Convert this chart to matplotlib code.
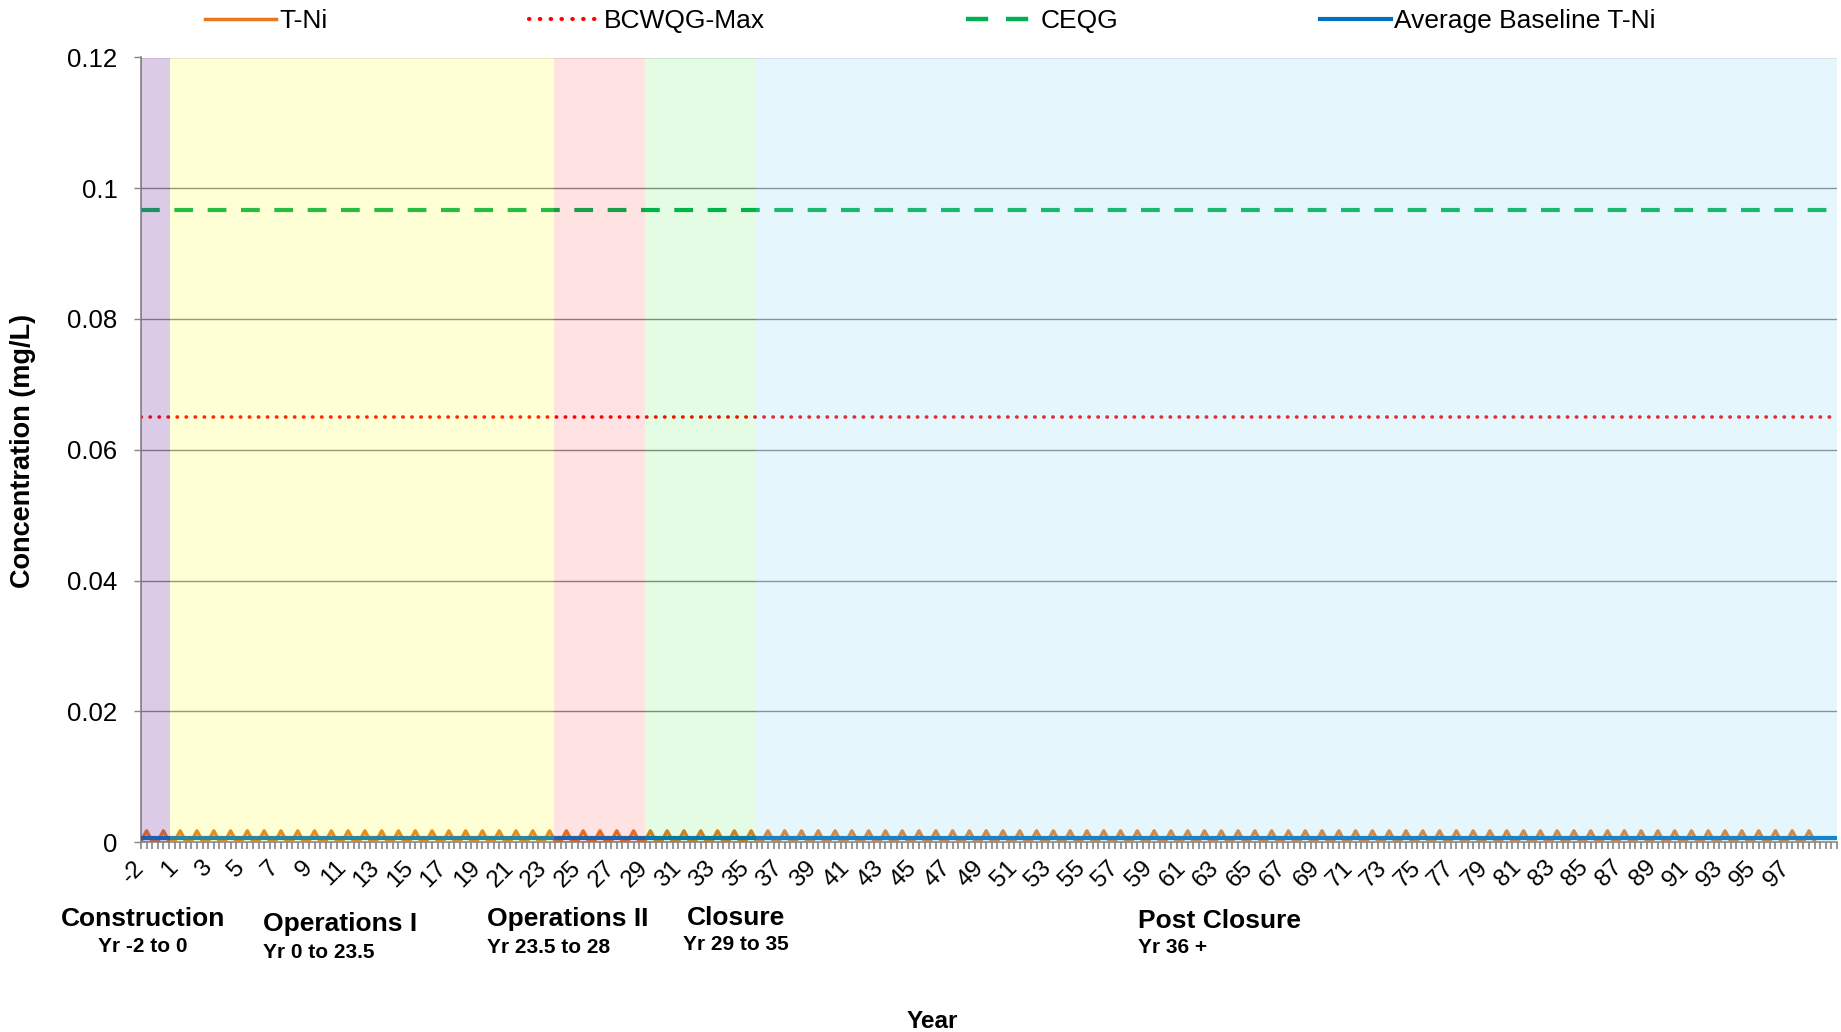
import numpy as np
import matplotlib
matplotlib.use("Agg")
import matplotlib.pyplot as plt
from matplotlib.lines import Line2D

plt.rcParams['font.family'] = ['Liberation Sans', 'DejaVu Sans']

# categories: 3 periods per year, years -2, -1, 1, 2, ... (labels every 6 periods)
n_periods = 304
tick_labels = ['-2'] + [str(y) for y in range(1, 98, 2)]
label_step = 6

# T-Ni concentration (mg/L), 3 values per year, years -2 .. 98
tni = [
    0.0001, 0.0017, 0.0001, 0.0001, 0.0017, 0.0001, 0.0001, 0.0017, 0.0001, 0.0001, 0.0017, 0.0001, 0.0001, 0.0017, 0.0001,
    0.0001, 0.0017, 0.0001, 0.0001, 0.0017, 0.0001, 0.0001, 0.0017, 0.0001, 0.0001, 0.0017, 0.0001, 0.0001, 0.0017, 0.0001,
    0.0001, 0.0017, 0.0001, 0.0001, 0.0017, 0.0001, 0.0001, 0.0017, 0.0001, 0.0001, 0.0017, 0.0001, 0.0001, 0.0017, 0.0001,
    0.0001, 0.0017, 0.0001, 0.0001, 0.0017, 0.0001, 0.0001, 0.0017, 0.0001, 0.0001, 0.0017, 0.0001, 0.0001, 0.0017, 0.0001,
    0.0001, 0.0017, 0.0001, 0.0001, 0.0017, 0.0001, 0.0001, 0.0017, 0.0001, 0.0001, 0.0017, 0.0001, 0.0001, 0.0017, 0.0001,
    0.0001, 0.0017, 0.0001, 0.0001, 0.0017, 0.0001, 0.0001, 0.0017, 0.0001, 0.0001, 0.0017, 0.0001, 0.0001, 0.0017, 0.0001,
    0.0001, 0.0017, 0.0001, 0.0001, 0.0017, 0.0001, 0.0001, 0.0017, 0.0001, 0.0001, 0.0017, 0.0001, 0.0001, 0.0017, 0.0001,
    0.0001, 0.0017, 0.0001, 0.0001, 0.0017, 0.0001, 0.0001, 0.0017, 0.0001, 0.0001, 0.0017, 0.0001, 0.0001, 0.0017, 0.0001,
    0.0001, 0.0017, 0.0001, 0.0001, 0.0017, 0.0001, 0.0001, 0.0017, 0.0001, 0.0001, 0.0017, 0.0001, 0.0001, 0.0017, 0.0001,
    0.0001, 0.0017, 0.0001, 0.0001, 0.0017, 0.0001, 0.0001, 0.0017, 0.0001, 0.0001, 0.0017, 0.0001, 0.0001, 0.0017, 0.0001,
    0.0001, 0.0017, 0.0001, 0.0001, 0.0017, 0.0001, 0.0001, 0.0017, 0.0001, 0.0001, 0.0017, 0.0001, 0.0001, 0.0017, 0.0001,
    0.0001, 0.0017, 0.0001, 0.0001, 0.0017, 0.0001, 0.0001, 0.0017, 0.0001, 0.0001, 0.0017, 0.0001, 0.0001, 0.0017, 0.0001,
    0.0001, 0.0017, 0.0001, 0.0001, 0.0017, 0.0001, 0.0001, 0.0017, 0.0001, 0.0001, 0.0017, 0.0001, 0.0001, 0.0017, 0.0001,
    0.0001, 0.0017, 0.0001, 0.0001, 0.0017, 0.0001, 0.0001, 0.0017, 0.0001, 0.0001, 0.0017, 0.0001, 0.0001, 0.0017, 0.0001,
    0.0001, 0.0017, 0.0001, 0.0001, 0.0017, 0.0001, 0.0001, 0.0017, 0.0001, 0.0001, 0.0017, 0.0001, 0.0001, 0.0017, 0.0001,
    0.0001, 0.0017, 0.0001, 0.0001, 0.0017, 0.0001, 0.0001, 0.0017, 0.0001, 0.0001, 0.0017, 0.0001, 0.0001, 0.0017, 0.0001,
    0.0001, 0.0017, 0.0001, 0.0001, 0.0017, 0.0001, 0.0001, 0.0017, 0.0001, 0.0001, 0.0017, 0.0001, 0.0001, 0.0017, 0.0001,
    0.0001, 0.0017, 0.0001, 0.0001, 0.0017, 0.0001, 0.0001, 0.0017, 0.0001, 0.0001, 0.0017, 0.0001, 0.0001, 0.0017, 0.0001,
    0.0001, 0.0017, 0.0001, 0.0001, 0.0017, 0.0001, 0.0001, 0.0017, 0.0001, 0.0001, 0.0017, 0.0001, 0.0001, 0.0017, 0.0001,
    0.0001, 0.0017, 0.0001, 0.0001, 0.0017, 0.0001, 0.0001, 0.0017, 0.0001, 0.0001, 0.0017, 0.0001, 0.0001, 0.0017, 0.0001,
]
bcwqg_max = 0.065
ceqg = 0.0967
baseline_tni = 0.00055

# project phases (edges in category positions)
phase_names = ['Construction', 'Operations I', 'Operations II', 'Closure', 'Post Closure']
phase_years = ['Yr -2 to 0', 'Yr 0 to 23.5', 'Yr 23.5 to 28', 'Yr 29 to 35', 'Yr 36 +']
phase_edges = [0, 5.2, 73.8, 90.0, 109.9, 303]
phase_colors = ['#7030A0', '#FFFF00', '#FF0000', '#00E000', '#80D4F2']
phase_alpha = [0.25, 0.16, 0.11, 0.106, 0.2]

W, H = 1841, 1032
fig = plt.figure(figsize=(W / 100, H / 100), dpi=100)
ax = fig.add_axes([141 / W, 1 - 842 / H, 1696 / W, 784.5 / H])

orange, red, green, blue = '#E8771E', '#FF0000', '#00B050', '#0070C0'
x = np.arange(n_periods)
ax.plot(x[:len(tni)], tni, color=orange, lw=2.5, zorder=2)
ax.plot(x, np.full(n_periods, bcwqg_max), color=red, lw=2.6,
        ls=(0, (0.1, 2.4)), dash_capstyle='round', zorder=2)
ax.plot(x, np.full(n_periods, ceqg), color=green, lw=3, ls=(0, (4.5, 3.5)), zorder=2)
ax.plot(x, np.full(n_periods, baseline_tni), color=blue, lw=3, zorder=3)

# phase shading laid over the lines (translucent)
for i in range(len(phase_names)):
    ax.axvspan(phase_edges[i], phase_edges[i + 1], color=phase_colors[i],
               alpha=phase_alpha[i], lw=0, zorder=4)

ax.set_xlim(0, n_periods - 1)
ax.set_ylim(0, 0.12)

grey = '#868686'
ax.set_yticks([0, 0.02, 0.04, 0.06, 0.08, 0.1, 0.12])
ax.set_yticklabels(['0', '0.02', '0.04', '0.06', '0.08', '0.1', '0.12'], fontsize=18.5)
ax.yaxis.grid(True, color=grey, lw=1.0)
ax.set_axisbelow(True)

xlabels = [''] * n_periods
for k, lab in enumerate(tick_labels):
    xlabels[k * label_step] = lab
ax.set_xticks(x)
ax.set_xticklabels(xlabels, rotation=45, ha='right', va='center',
                   rotation_mode='anchor', fontsize=17.5)
ax.tick_params(axis='x', length=5, width=1.2, color=grey, pad=11)
ax.tick_params(axis='y', length=5, width=1, color=grey, pad=12)

for s in ['top', 'right']:
    ax.spines[s].set_visible(False)
for s in ['left', 'bottom']:
    ax.spines[s].set_color(grey)
    ax.spines[s].set_linewidth(1.2)

fig.text(23.5 / W, 1 - 451 / H, 'Concentration (mg/L)', rotation=90, ha='center', va='center',
         fontsize=19.5, fontweight='bold')
fig.text(932 / W, 1 - 1021 / H, 'Year', ha='center', va='center', fontsize=17.5, fontweight='bold')

# phase captions under the axis
title_pos = [(142.6, 919, 'center'), (263, 924, 'left'), (487, 919, 'left'),
             (735.6, 918, 'center'), (1138, 920.5, 'left')]
sub_y = [946, 952, 947.5, 945, 947.5]
for (px, py, ha), sy, name, yrs in zip(title_pos, sub_y, phase_names, phase_years):
    fig.text(px / W, 1 - py / H, name, ha=ha, va='center', fontsize=19, fontweight='bold')
    fig.text(px / W, 1 - sy / H, yrs, ha=ha, va='center', fontsize=15, fontweight='bold')

handles = [
    Line2D([], [], color=orange, lw=2.5),
    Line2D([], [], color=red, lw=3, ls=(0, (0.1, 2.5)), dash_capstyle='round'),
    Line2D([], [], color=green, lw=3.2, ls=(0, (5, 4))),
    Line2D([], [], color=blue, lw=3),
]
fig.legend(handles, ['T-Ni', 'BCWQG-Max', 'CEQG', 'Average Baseline T-Ni'],
           loc='center left', bbox_to_anchor=(205 / W, 1 - 21 / H),
           ncol=4, frameon=False, fontsize=19, handlelength=2.7, handletextpad=0.11,
           columnspacing=7.65, borderpad=0, borderaxespad=0)

fig.savefig('out.png', dpi=100)
